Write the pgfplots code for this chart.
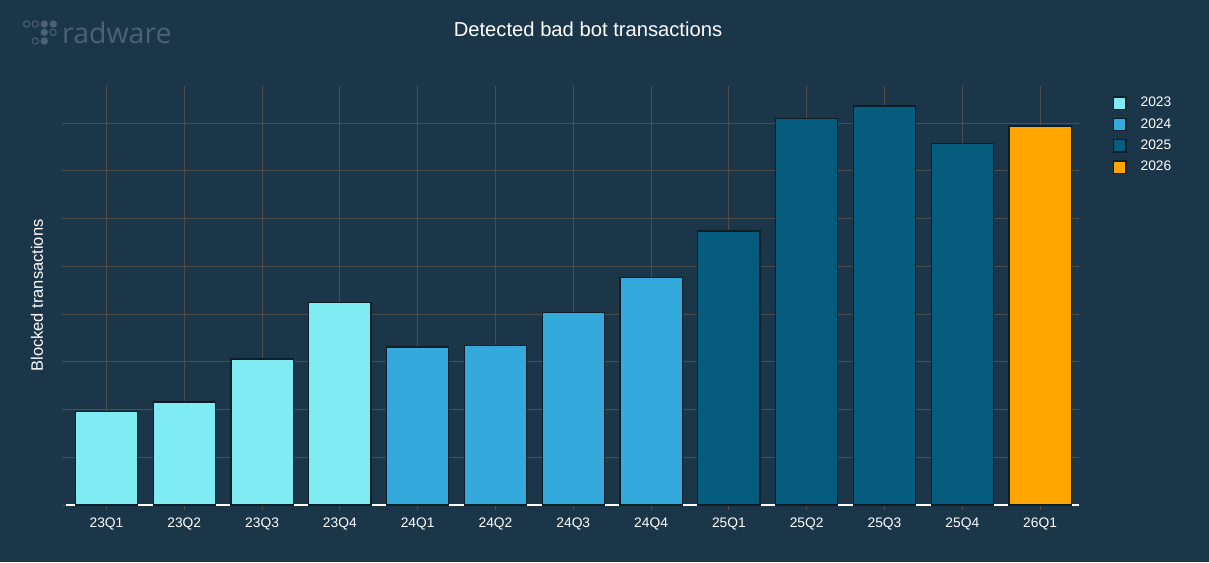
\documentclass[border=0pt]{standalone}
\usepackage{pgfplots}
\pgfplotsset{compat=1.18}
\usepackage{fontspec}
\setmainfont{Liberation Sans}
\newfontfamily\logofont{Open Sans}

\definecolor{bg}{RGB}{27,53,73}
\definecolor{gridc}{RGB}{78,78,78}
\definecolor{barline}{RGB}{12,30,40}
\definecolor{logoc}{RGB}{76,98,115}
\definecolor{c23}{RGB}{127,235,243}
\definecolor{c24}{RGB}{51,170,219}
\definecolor{c25}{RGB}{5,92,125}
\definecolor{c26}{RGB}{255,165,0}

\pgfplotsset{
  mybar/.style={ybar, bar width=0.8, bar shift=0pt, draw=barline, line width=1.2pt,
    legend image code/.code={\draw[##1] (0pt,-6.2pt) rectangle (12.4pt,6.2pt);}},
}

\begin{document}
\begin{tikzpicture}
\fill[bg] (0pt,0pt) rectangle (1209pt,562pt);
\useasboundingbox (0pt,0pt) rectangle (1209pt,562pt);

% logo
\draw[logoc, line width=1pt] (26.7pt,538pt) circle (3.2pt) (35.3pt,538pt) circle (3.2pt)
  (53pt,529.7pt) circle (3.2pt) (35.3pt,521pt) circle (3.2pt);
\fill[logoc] (44.3pt,538pt) circle (3.7pt) (53.3pt,538pt) circle (3.7pt)
  (44.3pt,529.7pt) circle (3.7pt) (44.3pt,521pt) circle (3.7pt);
\node[logoc, anchor=base west, inner sep=0pt, font=\logofont\fontsize{28.5}{31}\selectfont]
  at (62pt,518pt) {radware};

\node[text=white, font=\fontsize{20.2}{23}\selectfont] at (588pt,533pt) {Detected bad bot transactions};

\begin{axis}[
  at={(66pt,57pt)}, anchor=south west,
  scale only axis, width=1013pt, height=419pt,
  xmin=-0.52, xmax=12.5, ymin=0, ymax=8.78,
  axis x line*=bottom, axis y line*=left,
  x axis line style={white, line width=1.5pt, -},
  y axis line style={draw=none},
  xtick={0,...,12},
  xticklabels={23Q1,23Q2,23Q3,23Q4,24Q1,24Q2,24Q3,24Q4,25Q1,25Q2,25Q3,25Q4,26Q1},
  ytick={0,...,8}, yticklabels={},
  tick align=outside, major tick length=4.5pt,
  tick style={gridc, line width=1pt},
  xmajorgrids, ymajorgrids,
  major grid style={gridc, line width=1pt},
  xticklabel style={text=white, font=\fontsize{13.8}{16}\selectfont, yshift=-5pt},
  ylabel={Blocked transactions},
  ylabel style={at={(axis description cs:-0.0286,0.5)}, anchor=center, text=white,
    font=\fontsize{16.5}{19}\selectfont},
  legend style={draw=none, fill=none, inner sep=0pt, outer sep=0pt,
    at={(axis description cs:1.0336,0.975)}, anchor=north west,
    nodes={inner sep=0pt, text=white, anchor=west, text height=9.5pt, text depth=2.5pt,
      font=\fontsize{13.8}{16}\selectfont},
    row sep=7.7pt,
    /tikz/every odd column/.append style={column sep=14pt}},
  legend cell align=left,
]
\addplot[mybar, fill=c23] coordinates {(0,1.96) (1,2.16) (2,3.06) (3,4.25)};
\addlegendentry{2023}
\addplot[mybar, fill=c24] coordinates {(4,3.31) (5,3.35) (6,4.04) (7,4.77)};
\addlegendentry{2024}
\addplot[mybar, fill=c25] coordinates {(8,5.74) (9,8.10) (10,8.36) (11,7.58)};
\addlegendentry{2025}
\addplot[mybar, fill=c26] coordinates {(12,7.94)};
\addlegendentry{2026}
\end{axis}
\end{tikzpicture}
\end{document}
